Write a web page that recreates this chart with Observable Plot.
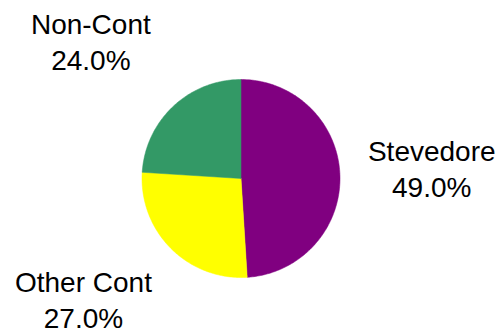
<!DOCTYPE html>
<html><head><meta charset="utf-8">
<script src="https://cdn.jsdelivr.net/npm/d3@7"></script>
<script src="https://cdn.jsdelivr.net/npm/@observablehq/plot@0.6"></script>
<style>html,body{margin:0;padding:0;background:#fff;}</style>
</head><body><div id="chart"></div>
<script>
// Data
const categories = ["Stevedore", "Other Cont", "Non-Cont"];
const shares = [49.0, 27.0, 24.0];
const colors = ["#800080", "#FFFF00", "#339966"];

// Layout
const W = 499, H = 332, R = 99, cx = 240.5, cy = 178;
const fs = 28, lh = 1.28;
// small pixel nudges for label placement (layout only)
const nudge = {"Stevedore": [-7, -5], "Other Cont": [5, -3], "Non-Cont": [-1, -12]};

const pie = d3.pie().sort(null).value(d => d)(shares);
const wedges = [];
pie.forEach((p, i) => {
  const n = Math.max(2, Math.ceil((p.endAngle - p.startAngle) / (Math.PI / 180)));
  wedges.push({cat: categories[i], u: 0, v: 0});
  for (let k = 0; k <= n; k++) {
    const a = p.startAngle + (p.endAngle - p.startAngle) * k / n;
    wedges.push({cat: categories[i], u: Math.sin(a), v: Math.cos(a)});
  }
  wedges.push({cat: categories[i], u: 0, v: 0});
});

const ctx = document.createElement("canvas").getContext("2d");
ctx.font = `${fs}px "Liberation Sans"`;
const clamp = x => Math.max(-1, Math.min(1, x));
const labels = pie.map((p, i) => {
  const text = `${categories[i]}\n${shares[i].toFixed(1)}%`;
  const w = Math.max(...text.split("\n").map(s => ctx.measureText(s).width));
  const h = fs * (lh + 0.716);
  const a = (p.startAngle + p.endAngle) / 2, dx = Math.sin(a), dy = Math.cos(a);
  const gap = 35 / R;
  const [nx, ny] = nudge[categories[i]];
  return {
    text,
    u: dx * (1 + gap) + (w / 2 / R) * clamp(1.4 * dx) + nx / R,
    v: dy * (1 + gap) + (h / 2 / R) * clamp(1.6 * dy) - ny / R
  };
});

const chart = Plot.plot({
  width: W, height: H, margin: 0,
  x: {domain: [-cx / R, (W - cx) / R], axis: null},
  y: {domain: [(cy - H) / R, cy / R], axis: null},
  color: {domain: categories, range: colors},
  style: {fontFamily: '"Liberation Sans", Arial, sans-serif', background: "white"},
  marks: [
    Plot.line(wedges, {x: "u", y: "v", z: "cat", fill: "cat", stroke: "cat", strokeWidth: 0.5}),
    Plot.text(labels, {x: "u", y: "v", text: "text", fontSize: fs, lineHeight: lh,
      textAnchor: "middle", lineAnchor: "middle", fill: "black"})
  ]
});
document.getElementById("chart").appendChild(chart);
</script>
</body></html>
